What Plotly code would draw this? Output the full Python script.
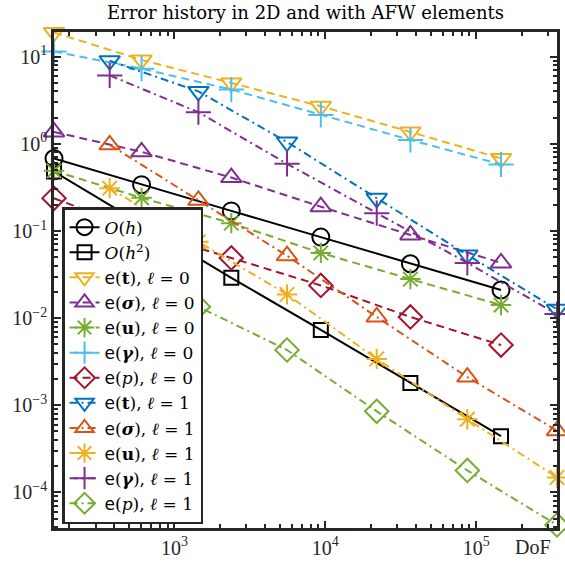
import math
import plotly.graph_objects as go

# DoF values
dof_l0 = [159, 605, 2380, 9330, 36600, 146000]
dof_l1 = [372, 1440, 5570, 21900, 87300, 343000]

# reference rates
ref_h = [0.68, 0.34, 0.17, 0.085, 0.042, 0.021]
ref_h2 = [0.48, 0.12, 0.029, 0.0073, 0.0018, 0.00044]

# errors, level 0
et0 = [19.0, 9.2, 5.0, 2.7, 1.37, 0.68]
esig0 = [1.37, 0.81, 0.41, 0.19, 0.090, 0.043]
eu0 = [0.49, 0.24, 0.123, 0.056, 0.028, 0.0141]
egam0 = [11.5, 7.3, 4.2, 2.15, 1.11, 0.58]
ep0 = [0.237, 0.10, 0.049, 0.0237, 0.0103, 0.0049]

# errors, level 1
et1 = [9.0, 4.0, 1.05, 0.237, 0.053, 0.0126]
esig1 = [0.975, 0.225, 0.052, 0.0103, 0.0021, 0.00051]
eu1 = [0.31, 0.075, 0.0187, 0.0034, 0.00069, 0.000148]
egam1 = [6.1, 2.31, 0.59, 0.16, 0.043, 0.0111]
ep1 = [0.05, 0.0135, 0.0043, 0.00085, 0.000178, 0.0000422]

# tick labels
y_exps = [-4, -3, -2, -1, 0, 1]
x_exps = [3, 4, 5]

BLUE = "#0072BD"; ORANGE = "#D95319"; YELLOW = "#EDB120"; PURPLE = "#7E2F8E"
GREEN = "#77AC30"; LBLUE = "#4DBEEE"; DRED = "#A2142F"

LEGF = "DejaVu Serif"
SANS_E = '<span style="font-family:DejaVu Sans">e</span>'
DASH = "8px,5px"
DASHDOT = "8px,4px,2px,4px"


def lab(body, lvl):
    return SANS_E + "(" + body + "), <i>ℓ</i> = " + str(lvl)


series = [
    ("<i>O</i>(<i>h</i>)", dof_l0, ref_h, "black", "solid", "circle-open"),
    ("<i>O</i>(<i>h</i><sup>2</sup>)", dof_l0, ref_h2, "black", "solid", "square-open"),
    (lab("<b>t</b>", 0), dof_l0, et0, YELLOW, DASH, "triangle-down-open"),
    (lab("<b><i>σ</i></b>", 0), dof_l0, esig0, PURPLE, DASH, "triangle-up-open"),
    (lab("<b>u</b>", 0), dof_l0, eu0, GREEN, DASH, "asterisk-open"),
    (lab("<b><i>γ</i></b>", 0), dof_l0, egam0, LBLUE, DASH, "cross-thin-open"),
    (lab("<i>p</i>", 0), dof_l0, ep0, DRED, DASH, "diamond-open"),
    (lab("<b>t</b>", 1), dof_l1, et1, BLUE, DASHDOT, "triangle-down-open"),
    (lab("<b><i>σ</i></b>", 1), dof_l1, esig1, ORANGE, DASHDOT, "triangle-up-open"),
    (lab("<b>u</b>", 1), dof_l1, eu1, YELLOW, DASHDOT, "asterisk-open"),
    (lab("<b><i>γ</i></b>", 1), dof_l1, egam1, PURPLE, DASHDOT, "cross-thin-open"),
    (lab("<i>p</i>", 1), dof_l1, ep1, GREEN, DASHDOT, "diamond-open"),
]

SIZES = {"circle-open": 17, "square-open": 14, "triangle-down-open": 18,
         "triangle-up-open": 18, "asterisk-open": 17, "cross-thin-open": 18,
         "diamond-open": 18}

fig = go.Figure()
for name, x, y, col, dash, sym in series:
    fig.add_trace(go.Scatter(
        x=x, y=y, name=name, mode="lines+markers", cliponaxis=False,
        line=dict(color=col, width=2, dash=dash),
        marker=dict(symbol=sym, size=SIZES[sym], color=col, line=dict(color=col, width=2)),
    ))

AX = "#262626"
FONT = "Liberation Serif"
minor_vals = [m * 10 ** e for e in range(-5, 7) for m in range(2, 10)]
fig.update_layout(
    width=565, height=564, autosize=False,
    margin=dict(l=54, r=5, t=32, b=33),
    paper_bgcolor="white", plot_bgcolor="white",
    font=dict(family=FONT, size=20, color=AX),
    title=dict(text="Error history in 2D and with AFW elements", x=0.5, xanchor="center",
               xref="paper", y=0.977, yanchor="middle", yref="container",
               font=dict(family="DejaVu Serif", size=18, color="black")),
    showlegend=True,
    legend=dict(x=0.016, y=0.647, xanchor="left", yanchor="top",
                bgcolor="white", bordercolor=AX, borderwidth=2.5,
                font=dict(family=LEGF, size=17, color="black"),
                itemwidth=30),
    xaxis=dict(type="log", range=[math.log10(dof_l0[0]), math.log10(dof_l1[-1])],
               showline=True, linecolor=AX, linewidth=2.5, mirror="ticks",
               ticks="inside", ticklen=7, tickwidth=2, tickcolor=AX,
               tickmode="array", tickvals=[10 ** e for e in x_exps],
               ticktext=["10<sup>%d</sup>" % e for e in x_exps],
               minor=dict(ticks="inside", ticklen=4, tickwidth=1.5, tickcolor=AX,
                          tickmode="array", tickvals=minor_vals),
               showgrid=False, zeroline=False, tickfont=dict(size=20, color=AX)),
    yaxis=dict(type="log", range=[-4.41, 1.284],
               showline=True, linecolor=AX, linewidth=2.5, mirror="ticks",
               ticks="inside", ticklen=7, tickwidth=2, tickcolor=AX,
               tickmode="array", tickvals=[10 ** e for e in y_exps],
               ticktext=["10<sup>%s</sup>" % (str(e).replace("-", "−")) for e in y_exps],
               minor=dict(ticks="inside", ticklen=4, tickwidth=1.5, tickcolor=AX,
                          tickmode="array", tickvals=minor_vals),
               showgrid=False, zeroline=False, tickfont=dict(size=20, color=AX)),
)
fig.add_annotation(text="DoF", xref="paper", yref="paper", x=0.953, y=-0.038,
                   xanchor="center", yanchor="middle", showarrow=False,
                   font=dict(family=FONT, size=20, color=AX))
fig.write_html("out.html")
